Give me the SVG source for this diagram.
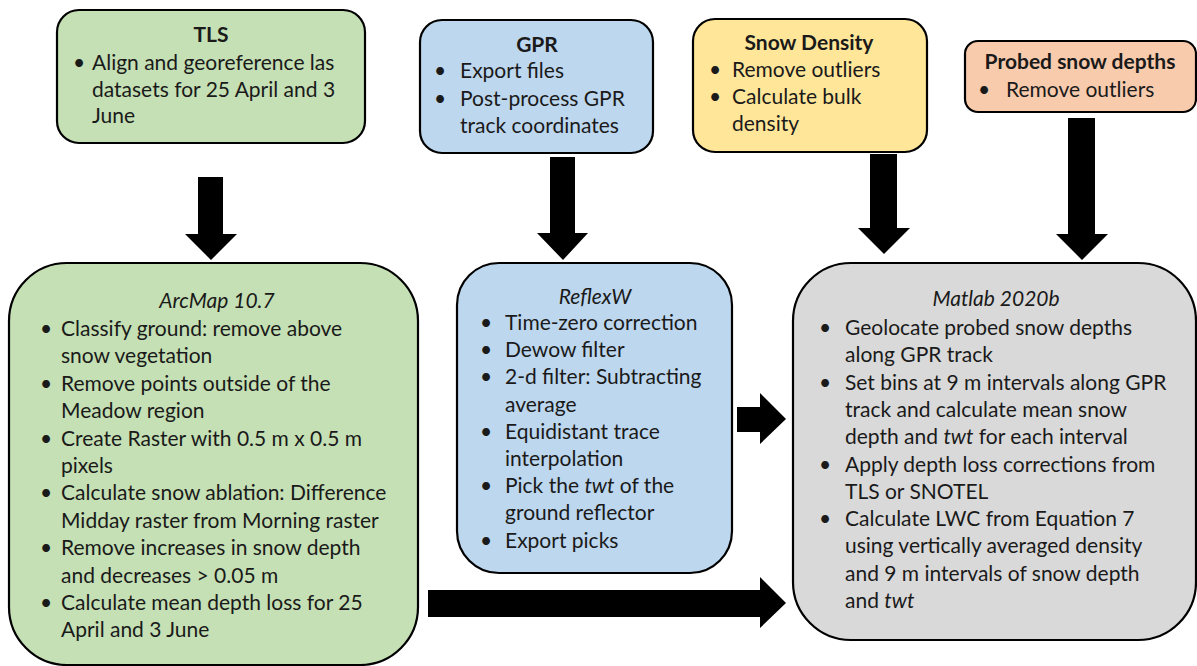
<svg xmlns="http://www.w3.org/2000/svg" width="1197" height="666" viewBox="0 0 1197 666">
<style>
.box{stroke:#000;stroke-width:2.2}
.t{font-family:Lato,"Open Sans","Liberation Sans",sans-serif;font-size:21px;fill:#1a1a1a}
.h{font-weight:bold;text-anchor:middle}
.i{font-style:italic}
.c{text-anchor:middle}
.arrow{fill:#000}
</style>
<rect width="1197" height="666" fill="#fff"/>
<g id="connectors">
<polygon class="arrow" points="198,177 223,177 223,234 237,234 211,260 185,234 198,234"/>
<polygon class="arrow" points="550,157 575,157 575,233 588,233 563,260 537,233 550,233"/>
<polygon class="arrow" points="870,154 897,154 897,228 910,228 884,254 858,228 870,228"/>
<polygon class="arrow" points="1068,118 1095,118 1095,234 1108,234 1082,260 1056,234 1068,234"/>
<polygon class="arrow" points="737,407 760,407 760,393 786,419 760,444 760,432 737,432"/>
<polygon class="arrow" points="428,590 760,590 760,577 786,603 760,628 760,617 428,617"/>
</g>
<g id="tls">
<rect class="box" x="57" y="10" width="308" height="133" rx="22" fill="#C5E0B4"/>
<text class="t h" x="211" y="42">TLS</text>
<text class="t" x="73" y="70">•</text>
<text class="t" x="92" y="70">Align and georeference las</text>
<text class="t" x="92" y="97">datasets for 25 April and 3</text>
<text class="t" x="92" y="123">June</text>
</g>
<g id="gpr">
<rect class="box" x="420" y="20" width="233" height="133" rx="22" fill="#BDD7EE"/>
<text class="t h" x="537" y="52">GPR</text>
<text class="t" x="434" y="78">•</text>
<text class="t" x="460" y="78">Export files</text>
<text class="t" x="434" y="106">•</text>
<text class="t" x="460" y="106">Post-process GPR</text>
<text class="t" x="460" y="133">track coordinates</text>
</g>
<g id="snowdensity">
<rect class="box" x="693" y="19" width="234" height="133" rx="22" fill="#FFE699"/>
<text class="t h" x="809" y="50">Snow Density</text>
<text class="t" x="709" y="77">•</text>
<text class="t" x="732" y="77">Remove outliers</text>
<text class="t" x="709" y="104">•</text>
<text class="t" x="732" y="104">Calculate bulk</text>
<text class="t" x="732" y="131">density</text>
</g>
<g id="probed">
<rect class="box" x="965" y="41" width="231" height="71" rx="13" fill="#F8CBAD"/>
<text class="t h" x="1080" y="69">Probed snow depths</text>
<text class="t" x="978" y="97">•</text>
<text class="t" x="1006" y="97">Remove outliers</text>
</g>
<g id="arcmap">
<rect class="box" x="9" y="263" width="409" height="402" rx="58" fill="#C5E0B4"/>
<text class="t i c" x="217" y="308">ArcMap 10.7</text>
<g class="t">
<text x="40" y="336">•</text><text x="61" y="336">Classify ground: remove above</text>
<text x="61" y="363.4">snow vegetation</text>
<text x="40" y="390.8">•</text><text x="61" y="390.8">Remove points outside of the</text>
<text x="61" y="418.2">Meadow region</text>
<text x="40" y="445.6">•</text><text x="61" y="445.6">Create Raster with 0.5 m x 0.5 m</text>
<text x="61" y="473">pixels</text>
<text x="40" y="500.4">•</text><text x="61" y="500.4">Calculate snow ablation: Difference</text>
<text x="61" y="527.8">Midday raster from Morning raster</text>
<text x="40" y="555.2">•</text><text x="61" y="555.2">Remove increases in snow depth</text>
<text x="61" y="582.6">and decreases &gt; 0.05 m</text>
<text x="40" y="610">•</text><text x="61" y="610">Calculate mean depth loss for 25</text>
<text x="61" y="637.4">April and 3 June</text>
</g>
</g>
<g id="reflexw">
<rect class="box" x="457" y="263" width="275" height="310" rx="42" fill="#BDD7EE"/>
<text class="t i c" x="595" y="304">ReflexW</text>
<g class="t">
<text x="480" y="330">•</text><text x="505" y="330">Time-zero correction</text>
<text x="480" y="357.2">•</text><text x="505" y="357.2">Dewow filter</text>
<text x="480" y="384.4">•</text><text x="505" y="384.4">2-d filter: Subtracting</text>
<text x="505" y="411.6">average</text>
<text x="480" y="438.8">•</text><text x="505" y="438.8">Equidistant trace</text>
<text x="505" y="466">interpolation</text>
<text x="480" y="493.2">•</text><text x="505" y="493.2">Pick the <tspan class="i">twt</tspan> of the</text>
<text x="505" y="520.4">ground reflector</text>
<text x="480" y="547.6">•</text><text x="505" y="547.6">Export picks</text>
</g>
</g>
<g id="matlab">
<rect class="box" x="793" y="263" width="403" height="377" rx="58" fill="#D9D9D9"/>
<text class="t i c" x="996" y="306">Matlab 2020b</text>
<g class="t">
<text x="819" y="335">•</text><text x="845" y="335">Geolocate probed snow depths</text>
<text x="845" y="362.3">along GPR track</text>
<text x="819" y="389.6">•</text><text x="845" y="389.6">Set bins at 9 m intervals along GPR</text>
<text x="845" y="416.9">track and calculate mean snow</text>
<text x="845" y="444.2">depth and <tspan class="i">twt</tspan> for each interval</text>
<text x="819" y="471.5">•</text><text x="845" y="471.5">Apply depth loss corrections from</text>
<text x="845" y="498.8">TLS or SNOTEL</text>
<text x="819" y="526.1">•</text><text x="845" y="526.1">Calculate LWC from Equation 7</text>
<text x="845" y="553.4">using vertically averaged density</text>
<text x="845" y="580.7">and 9 m intervals of snow depth</text>
<text x="845" y="608">and <tspan class="i">twt</tspan></text>
</g>
</g>
</svg>
